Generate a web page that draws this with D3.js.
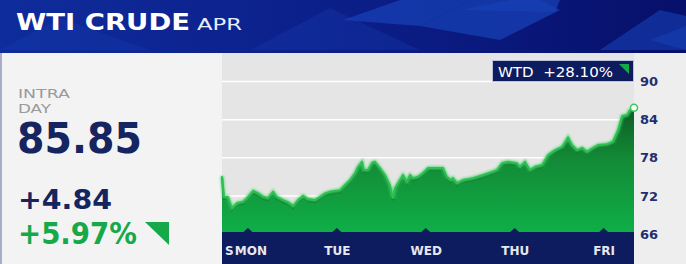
<!DOCTYPE html>
<html>
<head>
<meta charset="utf-8">
<script src="https://cdn.jsdelivr.net/npm/d3@7"></script>
<style>
  html, body { margin: 0; padding: 0; background: #f3f3f3; }
  svg { display: block; }
</style>
</head>
<body>
<svg id="chart" width="686" height="264"></svg>
<script>
// hours since Sunday 00:00 and price
const hours = [17.0, 17.5, 18.6, 19.7, 21.05, 22.7, 23.75, 25.4, 26.7, 28.1, 29.4, 30.8, 31.8, 33.5, 34.8, 36.2,
    37.5, 38.9, 40.2, 42.1, 43.45, 44.8, 46.15, 48.85, 50.2, 51.55, 52.9, 53.7, 54.8, 55.3, 56.4, 57.5,
    58.3, 59.65, 61.0, 62.3, 63.15, 63.7, 65.0, 65.85, 66.9, 67.75, 68.55, 69.9, 71.25, 72.6, 73.95, 76.65,
    77.7, 78.8, 79.35, 80.4, 82.05, 84.75, 87.45, 89.9, 91.2, 92.6, 94.2, 96.6, 97.4, 98.8,
    100.1, 101.5, 103.4, 105.0, 106.9, 108.8, 110.4, 111.5, 112.8, 114.2, 115.5, 116.9, 118.5, 120.9,
    122.5, 123.9, 125.0, 126.3, 127.1, 128.2];
const prices = [75.13, 71.87, 71.82, 70.09, 70.88, 71.08, 71.67, 72.81, 72.45, 71.87, 71.67, 72.66, 71.87, 71.35, 71.04, 70.41,
    71.35, 72.03, 71.51, 71.35, 71.87, 72.41, 72.66, 72.92, 73.71, 74.50, 75.60, 76.59, 77.38, 76.07, 76.07, 77.22,
    77.38, 76.39, 75.29, 73.71, 71.67, 73.24, 74.50, 75.29, 74.23, 75.29, 74.81, 75.02, 75.60, 76.39, 76.39, 76.39,
    75.02, 74.50, 74.81, 74.0, 74.50, 74.81, 75.29, 75.80, 76.07, 77.17, 77.38, 77.17, 76.59, 77.38,
    76.07, 76.59, 76.86, 78.43, 79.22, 79.74, 81.22, 80.01, 79.22, 79.58, 78.95, 79.48, 80.01, 80.16,
    80.53, 82.37, 84.57, 84.73, 85.51, 85.85];

const dayLabels = ["MON", "TUE", "WED", "THU", "FRI"];
const dayHours = [24, 48, 72, 96, 120];
const yTicks = [66, 72, 78, 84, 90];

const titleText = "WTI CRUDE";
const contractText = "APR";
const lastPrice = "85.85";
const netChange = "+4.84";
const pctChange = "+5.97%";
const wtdText = "WTD  +28.10%";

const navy = "#0d1c5e";
const green = "#16a94a";

let svg = d3.select("#chart");

// ---------- header ----------
let defs = svg.append("defs");
let hg = defs.append("linearGradient").attr("id", "hdr").attr("x1", 0).attr("x2", 1);
hg.append("stop").attr("offset", 0).attr("stop-color", "#0f2c9c");
hg.append("stop").attr("offset", 0.55).attr("stop-color", "#0b1d86");
hg.append("stop").attr("offset", 1).attr("stop-color", "#07106a");

svg.append("rect").attr("width", 686).attr("height", 53).attr("fill", "url(#hdr)");

const diamonds = [
    "M0,50 L60,18 L150,50 Z",
    "M250,50 L330,8 L420,50 Z",
    "M343,20 L400,0 L470,0 L420,26 Z",
    "M420,26 L470,0 L540,0 L560,10 L500,40 Z",
    "M460,10 L510,0 L560,0 L555,12 Z",
    "M600,50 L660,10 L686,16 L686,50 Z",
    "M650,40 L686,26 L686,50 Z"
];
svg.append("g").selectAll("path").data(diamonds).enter().append("path")
    .attr("d", d => d)
    .attr("fill", "#1740b4")
    .attr("opacity", (d, i) => i < 2 ? 0.3 : (i > 4 ? 0.6 : 0.75));

svg.append("text").attr("x", 16).attr("y", 30)
    .attr("font-family", "DejaVu Sans").attr("font-weight", "bold").attr("font-size", 23)
    .attr("fill", "#fff").attr("textLength", 174).attr("lengthAdjust", "spacingAndGlyphs")
    .text(titleText);
svg.append("text").attr("x", 197).attr("y", 29.5)
    .attr("font-family", "DejaVu Sans").attr("font-size", 15)
    .attr("fill", "#e8ecff").attr("textLength", 45).attr("lengthAdjust", "spacingAndGlyphs")
    .text(contractText);

// ---------- left panel ----------
svg.append("rect").attr("x", 0).attr("y", 53).attr("width", 222).attr("height", 211).attr("fill", "#f3f3f3");
svg.append("rect").attr("x", 0).attr("y", 53).attr("width", 2).attr("height", 211).attr("fill", "#a9aec8");

svg.append("text").attr("x", 18).attr("y", 98)
    .attr("font-family", "DejaVu Sans").attr("font-size", 13).attr("fill", "#9a9a9a")
    .attr("textLength", 52).attr("lengthAdjust", "spacingAndGlyphs").text("INTRA");
svg.append("text").attr("x", 18).attr("y", 112.5)
    .attr("font-family", "DejaVu Sans").attr("font-size", 13).attr("fill", "#9a9a9a")
    .attr("textLength", 33).attr("lengthAdjust", "spacingAndGlyphs").text("DAY");
svg.append("text").attr("x", 17).attr("y", 153)
    .attr("font-family", "DejaVu Sans").attr("font-weight", "bold").attr("font-size", 42)
    .attr("fill", "#14255f").attr("textLength", 125).attr("lengthAdjust", "spacingAndGlyphs").text(lastPrice);
svg.append("text").attr("x", 18).attr("y", 209)
    .attr("font-family", "DejaVu Sans").attr("font-weight", "bold").attr("font-size", 27)
    .attr("fill", "#14255f").attr("textLength", 94).attr("lengthAdjust", "spacingAndGlyphs").text(netChange);
svg.append("text").attr("x", 18).attr("y", 244)
    .attr("font-family", "DejaVu Sans").attr("font-weight", "bold").attr("font-size", 30)
    .attr("fill", green).attr("textLength", 119).attr("lengthAdjust", "spacingAndGlyphs").text(pctChange);
svg.append("path").attr("d", "M145,222 L169,222 L169,245 Z").attr("fill", green);

// ---------- chart ----------
const plot = {left: 222, right: 634, top: 53, bottom: 232};

svg.append("rect").attr("x", plot.right).attr("y", 53).attr("width", 686 - plot.right).attr("height", 211).attr("fill", "#eeeeee");
svg.append("rect").attr("x", plot.left).attr("y", plot.top)
    .attr("width", plot.right - plot.left).attr("height", plot.bottom - plot.top).attr("fill", "#e5e5e5");

let x = d3.scaleLinear().domain([17, 128.2]).range([plot.left, plot.right]);
let y = d3.scaleLinear().domain([66, 90]).range([234, 81.5]);

let data = hours.map((h, i) => ({h: h, v: prices[i]}));

// gridlines
svg.append("g").selectAll("line").data(yTicks.slice(1)).enter().append("line")
    .attr("x1", plot.left).attr("x2", plot.right)
    .attr("y1", d => y(d)).attr("y2", d => y(d))
    .attr("stroke", "#ffffff").attr("stroke-width", 1.5);

let ag = defs.append("linearGradient").attr("id", "area")
    .attr("gradientUnits", "userSpaceOnUse").attr("x1", 0).attr("x2", 0).attr("y1", 100).attr("y2", 232);
ag.append("stop").attr("offset", 0).attr("stop-color", "#0a5523");
ag.append("stop").attr("offset", 0.45).attr("stop-color", "#138a37");
ag.append("stop").attr("offset", 1).attr("stop-color", "#0fae47");

let glow = defs.append("filter").attr("id", "glow").attr("x", "-5%").attr("y", "-20%").attr("width", "110%").attr("height", "140%");
glow.append("feGaussianBlur").attr("stdDeviation", 1.2);

let area = d3.area().x(d => x(d.h)).y0(plot.bottom).y1(d => y(d.v));
let line = d3.line().x(d => x(d.h)).y(d => y(d.v));

svg.append("path").datum(data).attr("d", area).attr("fill", "url(#area)");
svg.append("path").datum(data).attr("d", line)
    .attr("fill", "none").attr("stroke", "#0b6a2a").attr("stroke-width", 2.5)
    .attr("transform", "translate(0,2)").attr("opacity", 0.7);
svg.append("path").datum(data).attr("d", line)
    .attr("fill", "none").attr("stroke", "#45d466").attr("stroke-width", 3.5)
    .attr("filter", "url(#glow)").attr("opacity", 0.8);
svg.append("path").datum(data).attr("d", line)
    .attr("fill", "none").attr("stroke", "#2cc152").attr("stroke-width", 1.8)
    .attr("stroke-linejoin", "round");

let last = data[data.length - 1];
svg.append("circle").attr("cx", x(last.h)).attr("cy", y(last.v)).attr("r", 3.5)
    .attr("fill", "#ffffff").attr("stroke", "#3cc95c").attr("stroke-width", 1.5);

// x axis band
svg.append("rect").attr("x", plot.left).attr("y", plot.bottom)
    .attr("width", plot.right - plot.left).attr("height", 264 - plot.bottom).attr("fill", navy);

svg.append("g").selectAll("path").data(dayHours).enter().append("path")
    .attr("d", d => "M" + (x(d) - 5) + "," + (plot.bottom + 0.5) + " L" + x(d) + "," + (plot.bottom - 4) + " L" + (x(d) + 5) + "," + (plot.bottom + 0.5) + " Z")
    .attr("fill", navy);

svg.append("text").attr("x", 225).attr("y", 255)
    .attr("font-family", "DejaVu Sans").attr("font-weight", "bold").attr("font-size", 12)
    .attr("fill", "#e6e8f0").text("S");

let xAxis = svg.append("g").attr("transform", "translate(0," + plot.bottom + ")")
    .call(d3.axisBottom(x).tickValues(dayHours).tickSize(0).tickPadding(0)
        .tickFormat((d, i) => dayLabels[i]));
xAxis.select(".domain").remove();
xAxis.selectAll("text")
    .attr("y", 23).attr("dy", 0)
    .attr("dx", (d, i) => i === 0 ? 2.5 : 0)
    .attr("font-family", "DejaVu Sans").attr("font-weight", "bold").attr("font-size", 12)
    .attr("fill", "#e6e8f0");

// y axis on right
let yAxis = svg.append("g").attr("transform", "translate(" + plot.right + ",0)")
    .call(d3.axisRight(y).tickValues(yTicks).tickSize(0).tickPadding(6));
yAxis.select(".domain").remove();
yAxis.selectAll("text")
    .attr("font-family", "DejaVu Sans").attr("font-weight", "bold").attr("font-size", 13)
    .attr("fill", "#1f2f72");

// WTD box
svg.append("rect").attr("x", 492.5).attr("y", 60.5).attr("width", 141).attr("height", 21)
    .attr("fill", navy).attr("stroke", "#b9c1dc").attr("stroke-width", 1);
svg.append("text").attr("x", 498).attr("y", 76.5)
    .attr("font-family", "DejaVu Sans").attr("font-size", 14.5).attr("fill", "#ffffff")
    .attr("textLength", 115).attr("lengthAdjust", "spacingAndGlyphs")
    .style("white-space", "pre").text(wtdText);
svg.append("path").attr("d", "M619,64 L629,64 L629,74 Z").attr("fill", green);
</script>
</body>
</html>
